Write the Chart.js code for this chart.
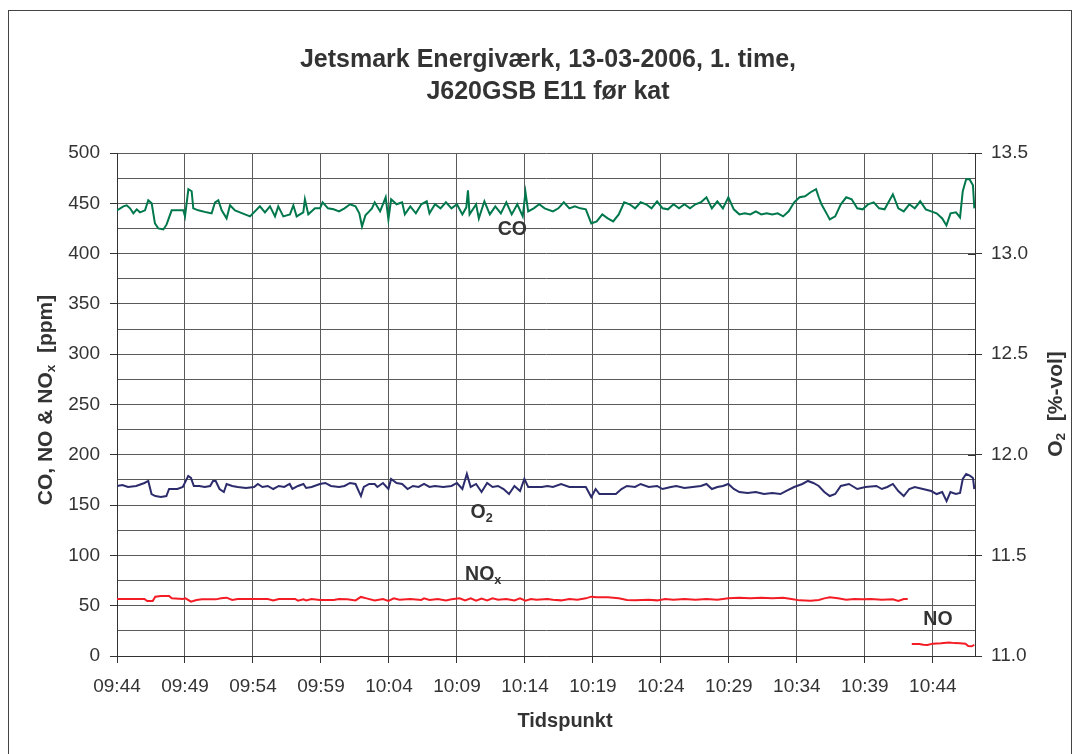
<!DOCTYPE html>
<html>
<head>
<meta charset="utf-8">
<script src="https://cdn.jsdelivr.net/npm/chart.js@4.4.1/dist/chart.umd.min.js"></script>
<style>
html,body{margin:0;padding:0;background:#fff;}
#wrap{width:1078px;height:754px;position:relative;}
</style>
</head>
<body>
<div id="wrap"><canvas id="c" width="1078" height="754"></canvas></div>
<script>
// Minutes after 09:44 and values
const coTime = [0,0.47,0.71,0.96,1.2,1.45,1.69,2.06,2.3,2.55,2.79,3.04,3.41,3.65,4.02,4.88,5.0,5.25,5.49,5.61,5.98,6.59,6.96,7.21,7.45,7.7,8.06,8.31,8.68,9.04,9.78,10.51,10.88,11.25,11.62,11.86,12.23,12.72,12.97,13.21,13.7,13.82,14.07,14.56,14.93,15.12,15.52,15.93,16.33,16.73,17.14,17.54,17.82,18.02,18.27,18.55,18.75,18.95,19.35,19.76,19.96,20.16,20.56,20.97,21.17,21.57,21.98,22.38,22.78,22.98,23.39,23.79,24.19,24.6,25.0,25.4,25.69,25.81,25.93,26.41,26.61,27.02,27.42,27.82,28.23,28.63,29.03,29.44,29.84,30.04,30.24,30.65,31.05,31.45,32.06,32.46,32.86,33.27,33.67,34.07,34.48,34.88,35.28,35.69,36.09,36.49,36.9,37.3,37.7,38.1,38.51,38.91,39.31,39.72,40.12,40.52,40.93,41.33,41.73,42.14,42.54,42.94,43.35,43.75,44.15,44.56,44.96,45.36,45.77,46.17,46.57,46.98,47.38,47.78,48.19,48.59,48.99,49.4,49.8,50.2,50.6,51.01,51.41,51.61,51.81,52.22,52.42,52.82,53.23,53.63,54.03,54.44,54.84,55.24,55.65,56.05,56.45,57.06,57.46,57.86,58.27,58.67,59.07,59.48,59.88,60.28,60.69,61.0,61.3,61.7,62.0,62.2,62.45,62.7,62.95,63.05];
const coValues = [443,447,448,445,440,444,441,443,453,450,430,425,424,429,443,443,437,464,462,445,443,441,440,451,453,443,435,448,443,441,437,447,441,447,437,447,437,439,448,437,441,454,439,445,445,451,445,444,442,445,449,447,440,427,438,442,445,451,442,456,434,454,449,451,439,447,440,449,452,440,449,445,451,445,449,439,446,463,439,449,435,452,439,447,440,451,439,449,437,461,442,445,449,445,442,445,451,445,447,445,444,430,432,439,435,432,439,451,449,445,451,449,445,452,445,444,449,445,449,445,449,451,456,445,452,445,456,444,439,440,439,442,439,440,439,440,437,442,451,456,457,461,464,456,449,439,434,437,449,456,454,445,444,449,451,445,444,459,445,442,449,445,452,444,442,440,435,428,440,441,436,462,474,474,468,445];

const o2Time = [0,0.4,0.81,1.41,2.02,2.3,2.54,2.82,3.23,3.63,3.83,4.44,4.84,5.24,5.44,5.65,6.05,6.45,6.85,7.06,7.26,7.54,7.86,8.06,8.47,8.87,9.48,10.08,10.36,10.69,11.09,11.49,11.9,12.3,12.7,12.9,13.31,13.71,13.91,14.31,14.92,15.32,15.73,16.33,16.73,17.14,17.54,17.94,18.15,18.55,18.95,19.15,19.56,19.96,20.16,20.56,20.97,21.37,21.77,22.18,22.58,22.98,23.39,23.99,24.6,25.0,25.4,25.73,26.01,26.41,26.81,27.22,27.62,28.02,28.43,28.83,29.23,29.64,29.96,30.24,30.65,31.25,31.65,32.06,32.66,33.27,33.87,34.48,34.88,35.2,35.48,36.09,36.69,37.1,37.5,38.1,38.51,39.11,39.72,40.12,40.73,41.13,41.73,42.34,42.94,43.35,43.75,44.15,44.56,44.96,45.36,45.77,46.37,46.98,47.58,48.19,48.79,49.19,49.8,50.4,50.81,51.21,51.61,52.02,52.42,52.82,53.23,53.83,54.44,55.04,55.85,56.25,56.65,57.06,57.46,57.86,58.27,58.67,59.27,59.88,60.28,60.69,61.01,61.29,61.69,62.0,62.2,62.45,62.75,62.95,63.05];
const o2Values = [11.845,11.85,11.84,11.845,11.86,11.87,11.805,11.795,11.79,11.795,11.83,11.83,11.84,11.895,11.885,11.845,11.845,11.84,11.845,11.87,11.87,11.83,11.815,11.855,11.845,11.84,11.835,11.84,11.855,11.84,11.845,11.83,11.845,11.84,11.855,11.83,11.845,11.855,11.835,11.84,11.855,11.86,11.845,11.84,11.845,11.86,11.855,11.795,11.84,11.855,11.855,11.84,11.86,11.83,11.88,11.86,11.855,11.83,11.845,11.84,11.855,11.84,11.845,11.84,11.845,11.86,11.83,11.905,11.84,11.855,11.815,11.86,11.84,11.845,11.83,11.805,11.845,11.82,11.88,11.84,11.84,11.84,11.845,11.84,11.855,11.84,11.84,11.84,11.79,11.83,11.805,11.805,11.805,11.83,11.845,11.84,11.855,11.84,11.845,11.83,11.84,11.845,11.835,11.84,11.845,11.855,11.83,11.84,11.845,11.855,11.83,11.815,11.81,11.815,11.805,11.81,11.805,11.82,11.84,11.855,11.87,11.86,11.845,11.815,11.795,11.805,11.845,11.855,11.83,11.84,11.845,11.83,11.84,11.855,11.82,11.795,11.83,11.84,11.83,11.82,11.805,11.815,11.77,11.815,11.805,11.81,11.88,11.905,11.895,11.885,11.83];

const noxTime = [0,2.02,2.22,2.62,2.82,3.23,3.83,4.03,4.84,5.04,5.44,5.85,6.25,7.26,7.66,8.06,8.47,8.87,11.09,11.49,11.9,13.1,13.31,13.71,13.91,14.31,14.92,15.93,16.33,16.94,17.54,17.94,18.35,18.95,19.56,19.96,20.36,20.77,21.57,22.38,22.58,22.98,23.59,24.19,24.6,25.2,25.6,26.01,26.41,26.81,27.22,27.62,28.02,28.63,29.23,29.64,30.04,30.44,30.85,31.65,32.06,32.66,33.27,33.87,34.48,34.88,35.28,36.09,36.9,37.5,38.1,39.11,39.72,40.32,40.93,41.73,42.54,43.35,44.15,44.96,45.77,46.57,47.38,48.19,48.99,49.6,50.2,51.01,51.61,52.02,52.42,53.02,53.63,54.23,54.84,55.44,56.25,57.06,57.46,57.86,58.15];
const noxValues = [56.7,56.7,54.7,54.7,59,59.7,59.7,57.3,56.7,57.3,54,55.7,56.3,56.3,57.3,58,55.7,56.7,56.7,55.3,56.7,56.7,55,56.3,55.3,56.7,55.7,55.7,56.7,56.3,55.3,58.7,57.3,55.3,56.7,54.7,57.3,56,56.7,55.7,57.3,55.7,56.7,55.3,56.3,57.3,55.3,57.3,55,57,55.3,57.3,56,56.7,55.3,57.3,55,56.7,56,56.7,56,55.3,56.7,56,57.3,59,58.3,58.3,57.3,55.7,55.3,56,55.3,56.7,56,56.7,56,56.7,56,57.3,58,57.3,58,57.3,58,56.7,55.3,55,55.7,57.3,58.3,57.3,56,56.7,56.3,56.7,56,56.3,54.7,56.7,56.7];

const noTime = [58.45,59.0,59.3,59.6,60.0,60.6,61.2,61.6,62.0,62.4,62.6,62.85,63.05];
const noValues = [11.9,11.9,11.2,11.0,12.3,12.6,13.3,12.8,12.6,12.2,10.0,9.6,11.0];

const xTickStep = 5;
const startClock = 9 * 60 + 44;
const titleLines = ['Jetsmark Energiværk, 13-03-2006, 1. time,', 'J620GSB E11 før kat'];

const FONT = '"Liberation Sans", Arial, sans-serif';
const TXT = '#333333';

function pts(t, v) { return t.map((x, i) => ({ x: x, y: v[i] })); }
function clock(m) {
  const t = Math.round(startClock + m);
  const h = Math.floor(t / 60), mm = t % 60;
  return String(h).padStart(2, '0') + ':' + String(mm).padStart(2, '0');
}

function drawRich(ctx, parts, cx, cy, size, rot) {
  ctx.save();
  ctx.translate(cx, cy);
  ctx.rotate(rot);
  ctx.fillStyle = TXT;
  ctx.textBaseline = 'alphabetic';
  ctx.textAlign = 'left';
  const subSize = size * 0.65;
  let total = 0;
  const ws = parts.map(p => {
    ctx.font = 'bold ' + (p[1] ? subSize : size) + 'px ' + FONT;
    const w = ctx.measureText(p[0]).width;
    total += w;
    return w;
  });
  let x = -total / 2;
  const base = size * 0.36;
  parts.forEach((p, i) => {
    ctx.font = 'bold ' + (p[1] ? subSize : size) + 'px ' + FONT;
    ctx.fillText(p[0], x, p[1] ? base + size * 0.18 : base);
    x += ws[i];
  });
  ctx.restore();
}

function drawLabel(ctx, chart, parts, xv, yv, size) {
  const xs = chart.scales.x, ys = chart.scales.y;
  const px = xs.getPixelForValue(xv), py = ys.getPixelForValue(yv);
  ctx.save();
  ctx.fillStyle = TXT;
  ctx.textBaseline = 'alphabetic';
  ctx.textAlign = 'left';
  let x = px;
  const base = py + size * 0.36;
  parts.forEach(p => {
    const s = p[1] ? size * 0.65 : size;
    ctx.font = 'bold ' + s + 'px ' + FONT;
    ctx.fillText(p[0], x, p[1] ? base + size * 0.18 : base);
    x += ctx.measureText(p[0]).width;
  });
  ctx.restore();
}

const decor = {
  id: 'decor',
  beforeDraw(chart) {
    const ctx = chart.ctx;
    ctx.save();
    ctx.fillStyle = '#fff';
    ctx.fillRect(0, 0, chart.width, chart.height);
    ctx.strokeStyle = '#444';
    ctx.lineWidth = 1;
    ctx.strokeRect(8.5, 10.5, 1063, 760);
    ctx.restore();
  },
  afterDraw(chart) {
    const ctx = chart.ctx;
    const ca = chart.chartArea;
    ctx.save();
    ctx.fillStyle = TXT;
    ctx.textAlign = 'center';
    ctx.textBaseline = 'middle';
    ctx.font = 'bold 25px ' + FONT;
    ctx.fillText(titleLines[0], 548, 60);
    ctx.fillText(titleLines[1], 548, 92);
    ctx.restore();
    const yr = chart.scales.y2;
    ctx.save();
    ctx.strokeStyle = '#333';
    ctx.lineWidth = 1;
    yr.ticks.forEach(t => {
      const py = Math.round(yr.getPixelForValue(t.value)) + 0.5;
      ctx.beginPath();
      ctx.moveTo(ca.right - 7, py);
      ctx.lineTo(ca.right, py);
      ctx.stroke();
    });
    ctx.restore();
    drawRich(ctx, [['CO, NO & NO', false], ['x', true], ['  [ppm]', false]], 44, 400, 21, -Math.PI / 2);
    drawRich(ctx, [['O', false], ['2', true], ['  [%-vol]', false]], 1054, 404, 21, -Math.PI / 2);
    drawRich(ctx, [['Tidspunkt', false]], 565, 720, 20, 0);
    drawLabel(ctx, chart, [['CO', false]], 28.0, 425, 19.5);
    drawLabel(ctx, chart, [['O', false], ['2', true]], 26.0, 144, 19.5);
    drawLabel(ctx, chart, [['NO', false], ['x', true]], 25.6, 82.5, 19.5);
    drawLabel(ctx, chart, [['NO', false]], 59.3, 37.8, 19.5);
  }
};

const common = { pointRadius: 0, borderWidth: 2, tension: 0, fill: false, spanGaps: false };

new Chart(document.getElementById('c'), {
  type: 'line',
  data: {
    datasets: [
      Object.assign({ label: 'CO', data: pts(coTime, coValues), borderColor: '#00784c', yAxisID: 'y' }, common),
      Object.assign({ label: 'O2', data: pts(o2Time, o2Values), borderColor: '#2c2c6c', yAxisID: 'y2' }, common),
      Object.assign({ label: 'NOx', data: pts(noxTime, noxValues), borderColor: '#f41c24', yAxisID: 'y' }, common),
      Object.assign({ label: 'NO', data: pts(noTime, noValues), borderColor: '#f41c24', yAxisID: 'y' }, common)
    ]
  },
  options: {
    responsive: false,
    animation: false,
    events: [],
    layout: { padding: { top: 153, left: 0, right: 0, bottom: 0 } },
    plugins: { legend: { display: false }, title: { display: false }, tooltip: { enabled: false } },
    scales: {
      x: {
        type: 'linear',
        min: 0,
        max: 63.1,
        afterFit(s) { s.height = 98; },
        ticks: {
          stepSize: xTickStep,
          includeBounds: false,
          autoSkip: false,
          maxRotation: 0,
          minRotation: 0,
          padding: 12,
          color: TXT,
          font: { family: FONT, size: 19 },
          callback: v => clock(v)
        },
        grid: { color: '#5a5a5a', lineWidth: 1, tickLength: 7, tickColor: '#333' },
        border: { display: true, color: '#333', width: 1 }
      },
      y: {
        position: 'left',
        min: 0,
        max: 500,
        afterFit(s) { s.width = 117; },
        ticks: {
          stepSize: 25,
          maxTicksLimit: 40,
          autoSkip: false,
          padding: 10,
          color: TXT,
          font: { family: FONT, size: 19 },
          callback: v => (v % 50 === 0 ? String(v) : '')
        },
        grid: {
          color: '#5a5a5a',
          lineWidth: 1,
          tickLength: 7,
          tickColor: c => (c.tick && c.tick.value % 50 === 0 ? '#333' : 'rgba(0,0,0,0)')
        },
        border: { display: true, color: '#333', width: 1 }
      },
      y2: {
        position: 'right',
        min: 11,
        max: 13.5,
        afterFit(s) { s.width = 103; },
        ticks: {
          stepSize: 0.5,
          padding: 9,
          color: TXT,
          font: { family: FONT, size: 19 },
          callback: v => Number(v).toFixed(1)
        },
        grid: { drawOnChartArea: false, tickLength: 7, tickColor: '#333' },
        border: { display: true, color: '#333', width: 1 }
      }
    }
  },
  plugins: [decor]
});
</script>
</body>
</html>
